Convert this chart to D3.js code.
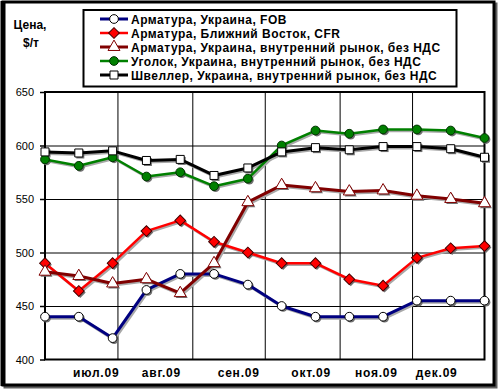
<!DOCTYPE html>
<html>
<head>
<meta charset="utf-8">
<script src="https://cdn.jsdelivr.net/npm/d3@7"></script>
<style>
  body { margin: 0; background: #fff; }
  svg { display: block; font-family: "Liberation Sans", Arial, sans-serif; }
  .ylab { font-size: 11px; }
  .xlab { font-size: 12px; font-weight: bold; letter-spacing: 0.8px; }
  .legend text { font-size: 12px; font-weight: bold; letter-spacing: 0.5px; }
  .unit { font-size: 12px; font-weight: bold; }
</style>
</head>
<body>
<svg width="500" height="391"></svg>
<script>
// biweekly observation dates
const dates = ['2009-07-02', '2009-07-16', '2009-07-30', '2009-08-13', '2009-08-27', '2009-09-10', '2009-09-24',
    '2009-10-08', '2009-10-22', '2009-11-05', '2009-11-19', '2009-12-03', '2009-12-17', '2009-12-31'];

const fobUkraine = [440, 440, 420, 465, 480, 480, 470, 450, 440, 440, 440, 455, 455, 455];
const cfrMiddleEast = [490, 464, 490, 520, 530, 510, 500, 490, 490, 475, 469, 495, 504, 506];
const rebarDomestic = [482, 478, 471, 475, 462, 490, 547, 563, 560, 557, 558, 553, 550, 546];
const angleDomestic = [587, 581, 589, 571, 575, 562, 569, 600, 614, 611, 615, 615, 614, 607];
const channelDomestic = [594, 593, 595, 586, 587, 572, 579, 594, 598, 596, 599, 599, 597, 589];

const seriesNames = [
    'Арматура, Украина, FOB',
    'Арматура, Ближний Восток, CFR',
    'Арматура, Украина, внутренний рынок, без НДС',
    'Уголок, Украина, внутренний рынок, без НДС',
    'Швеллер, Украина, внутренний рынок, без НДС'
];

const yTicks = [400, 450, 500, 550, 600, 650];
const monthLabels = ['июл.09', 'авг.09', 'сен.09', 'окт.09', 'ноя.09', 'дек.09'];
const monthLabelDates = ['2009-07-23', '2009-08-19', '2009-09-20', '2009-10-20', '2009-11-16', '2009-12-11'];
const gridDates = ['2009-08-01', '2009-09-01', '2009-10-01', '2009-11-01', '2009-12-01'];

const parse = d3.timeParse('%Y-%m-%d');

const styles = [
    { color: '#000080', width: 3, shape: 'circle', fill: '#fff', stroke: '#000' },
    { color: '#ff0000', width: 2.5, shape: 'diamond', fill: '#ff0000', stroke: '#400000' },
    { color: '#800000', width: 3, shape: 'triangle', fill: '#fff', stroke: '#800000' },
    { color: '#008000', width: 2.5, shape: 'circle', fill: '#008000', stroke: '#003000' },
    { color: '#000000', width: 3, shape: 'square', fill: '#fff', stroke: '#000' }
];

const series = [fobUkraine, cfrMiddleEast, rebarDomestic, angleDomestic, channelDomestic].map((vals, i) => ({
    name: seriesNames[i],
    style: styles[i],
    points: vals.map((v, j) => ({ date: parse(dates[j]), value: v }))
}));

const svg = d3.select('svg');

// chart area frame (with a bit of shadow on the right/bottom)
svg.append('rect')
    .attr('x', 5).attr('y', 4).attr('width', 491).attr('height', 383)
    .attr('fill', 'none').attr('stroke', '#606060').attr('stroke-width', 3);
svg.append('rect')
    .attr('x', 3).attr('y', 2).attr('width', 491).attr('height', 383)
    .attr('fill', '#fff').attr('stroke', '#000').attr('stroke-width', 3);
svg.append('line')
    .attr('x1', 3).attr('x2', 3).attr('y1', 1).attr('y2', 386)
    .attr('stroke', '#000').attr('stroke-width', 5);

const plotLeft = 45, plotRight = 484.5, plotTop = 92, plotBottom = 359.5;

const xScale = d3.scaleTime()
    .domain([parse(dates[0]), parse(dates[dates.length - 1])])
    .range([plotLeft, plotRight]);

const yScale = d3.scaleLinear()
    .domain([400, 650])
    .range([plotBottom, plotTop]);

// horizontal grid
svg.append('g')
    .attr('transform', `translate(${plotLeft},0)`)
    .call(d3.axisLeft(yScale).tickValues(yTicks.slice(1, -1)).tickSize(-(plotRight - plotLeft)).tickFormat(''))
    .call(g => g.select('.domain').remove())
    .selectAll('line').attr('stroke', '#000').attr('stroke-width', 1);

// vertical grid at month starts
svg.append('g')
    .attr('transform', `translate(0,${plotBottom})`)
    .call(d3.axisBottom(xScale).tickValues(gridDates.map(parse)).tickSize(-(plotBottom - plotTop)).tickFormat(''))
    .call(g => g.select('.domain').remove())
    .selectAll('line').attr('stroke', '#000').attr('stroke-width', 1);

// plot frame
svg.append('rect')
    .attr('x', plotLeft).attr('y', plotTop).attr('width', plotRight - plotLeft).attr('height', plotBottom - plotTop)
    .attr('fill', 'none').attr('stroke', '#000').attr('stroke-width', 2);

// y axis
const yAxis = svg.append('g')
    .attr('transform', `translate(${plotLeft},0)`)
    .call(d3.axisLeft(yScale).tickValues(yTicks).tickSize(5).tickPadding(6));
yAxis.select('.domain').remove();
yAxis.attr('font-family', null).attr('font-size', null);
yAxis.selectAll('line').attr('stroke', '#000').attr('stroke-width', 1.5);
yAxis.selectAll('text').attr('class', 'ylab').attr('fill', '#000');

// x labels
const xAxis = svg.append('g')
    .attr('transform', `translate(0,${plotBottom})`)
    .call(d3.axisBottom(xScale)
        .tickValues(monthLabelDates.map(parse))
        .tickSize(0).tickPadding(9)
        .tickFormat((d, i) => monthLabels[i]));
xAxis.select('.domain').remove();
xAxis.attr('font-family', null).attr('font-size', null);
xAxis.selectAll('text').attr('class', 'xlab').attr('fill', '#000');

// axis unit title
svg.append('text').attr('class', 'unit').attr('x', 30).attr('y', 29).attr('text-anchor', 'middle').text('Цена,');
svg.append('text').attr('class', 'unit').attr('x', 31).attr('y', 47).attr('text-anchor', 'middle').text('$/т');

const symbolPath = (shape) => {
    if (shape === 'circle') return d3.symbol(d3.symbolCircle, 60)();
    if (shape === 'diamond') return d3.symbol(d3.symbolSquare, 58)();
    if (shape === 'triangle') return d3.symbol(d3.symbolTriangle, 62)();
    return d3.symbol(d3.symbolSquare, 64)();
};
const symbolRotate = (shape) => shape === 'diamond' ? ' rotate(45)' : '';

const line = d3.line()
    .x(d => xScale(d.date))
    .y(d => yScale(d.value));

// shadow layer
const shadow = svg.append('g').attr('transform', 'translate(1.5,1.5)');
series.forEach(s => {
    shadow.append('path')
        .datum(s.points)
        .attr('d', line)
        .attr('fill', 'none')
        .attr('stroke', '#a8a8a8')
        .attr('stroke-width', s.style.width);
});
series.forEach(s => {
    shadow.selectAll(null)
        .data(s.points)
        .enter()
        .append('path')
        .attr('d', symbolPath(s.style.shape))
        .attr('transform', d => `translate(${xScale(d.date)},${yScale(d.value)})${symbolRotate(s.style.shape)}`)
        .attr('fill', '#707070');
});

// series
series.forEach(s => {
    const g = svg.append('g');
    g.append('path')
        .datum(s.points)
        .attr('d', line)
        .attr('fill', 'none')
        .attr('stroke', s.style.color)
        .attr('stroke-width', s.style.width)
        .attr('stroke-linejoin', 'round');
    g.selectAll(null)
        .data(s.points)
        .enter()
        .append('path')
        .attr('d', symbolPath(s.style.shape))
        .attr('transform', d => `translate(${xScale(d.date)},${yScale(d.value)})${symbolRotate(s.style.shape)}`)
        .attr('fill', s.style.fill)
        .attr('stroke', s.style.stroke)
        .attr('stroke-width', 1);
});

// legend
const legend = svg.append('g').attr('class', 'legend');
legend.append('rect')
    .attr('x', 83.5).attr('y', 10).attr('width', 373).attr('height', 76.5)
    .attr('fill', '#fff').attr('stroke', '#000').attr('stroke-width', 2);

const rows = legend.selectAll('g.row')
    .data(series)
    .enter()
    .append('g')
    .attr('class', 'row')
    .attr('transform', (d, i) => `translate(0,${19 + i * 14})`);

rows.append('line')
    .attr('x1', 100).attr('x2', 128)
    .attr('stroke', d => d.style.color)
    .attr('stroke-width', d => d.style.width);
rows.append('path')
    .attr('d', d => symbolPath(d.style.shape))
    .attr('transform', d => `translate(114,0)${symbolRotate(d.style.shape)}`)
    .attr('fill', d => d.style.fill)
    .attr('stroke', d => d.style.stroke)
    .attr('stroke-width', 1);
rows.append('text')
    .attr('x', 131)
    .attr('y', 4.5)
    .text(d => d.name);
</script>
</body>
</html>
